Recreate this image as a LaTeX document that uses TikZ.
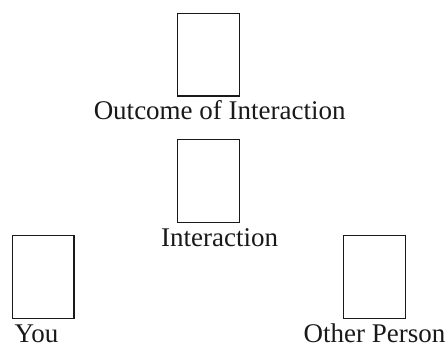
\documentclass[tikz,border=0pt]{standalone}
\usepackage{fontspec}
\setmainfont{Liberation Serif}
\begin{document}
\begin{tikzpicture}[x=1pt,y=1pt,
  boxnode/.style={draw=black!90, line width=1.4pt, rectangle, inner sep=0pt,
    minimum width=61.6pt, minimum height=82.6pt},
  labelnode/.style={inner sep=0pt, text=black!90, font=\fontsize{27}{30}\selectfont}]
\useasboundingbox (0,0) rectangle (448,-345);
\node[boxnode] (outcome) at (208.5,-54.8) {};
\node[boxnode] (interaction) at (208.5,-181) {};
\node[boxnode] (you) at (43.2,-277) {};
\node[boxnode] (other) at (374.5,-277) {};
\node[labelnode, anchor=base] (outcomelbl) at (219.7,-119.5) {Outcome of Interaction};
\node[labelnode, anchor=base] (interactionlbl) at (219.7,-246.7) {Interaction};
\node[labelnode, anchor=base west] (youlbl) at (14.5,-342) {You};
\node[labelnode, anchor=base] (otherlbl) at (374.5,-342) {Other Person};
\end{tikzpicture}
\end{document}
